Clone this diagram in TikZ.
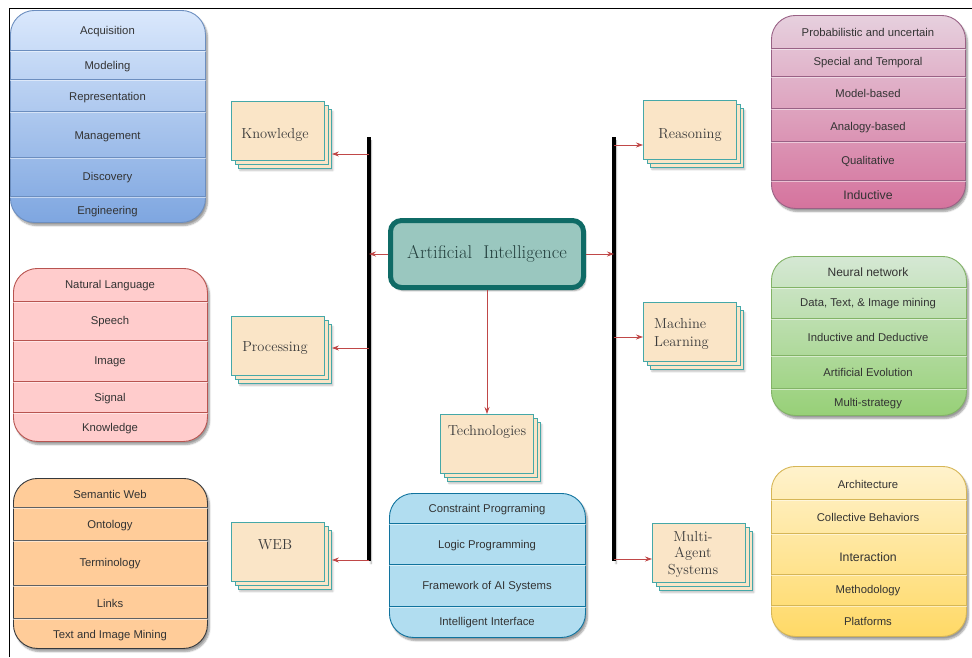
\documentclass[tikz,border=0pt]{standalone}
\usepackage{fontspec}
\newfontfamily\sansf{Liberation Sans}
\usetikzlibrary{shadows.blur,arrows.meta,calc}
\definecolor{bTop}{HTML}{DAE8FC}\definecolor{bBot}{HTML}{7EA6E0}\definecolor{bLn}{HTML}{6C8EBF}
\definecolor{rFill}{HTML}{FFCCCC}\definecolor{rLn}{HTML}{B85450}
\definecolor{oFill}{HTML}{FFCC99}\definecolor{oLn}{HTML}{36393D}
\definecolor{mTop}{HTML}{E6D0DE}\definecolor{mBot}{HTML}{D5739D}\definecolor{mLn}{HTML}{996185}
\definecolor{gTop}{HTML}{D5E8D4}\definecolor{gBot}{HTML}{97D077}\definecolor{gLn}{HTML}{82B366}
\definecolor{yTop}{HTML}{FFF2CC}\definecolor{yBot}{HTML}{FFD966}\definecolor{yLn}{HTML}{D6B656}
\definecolor{cFill}{HTML}{B1DDF0}\definecolor{cLn}{HTML}{10739E}
\definecolor{aiFill}{HTML}{9AC7BF}\definecolor{aiLn}{HTML}{0F6B66}\definecolor{aiTxt}{HTML}{24403E}
\definecolor{cardFill}{HTML}{FAE5C7}\definecolor{cardLn}{HTML}{45A8A8}\definecolor{cardTxt}{HTML}{3C3C3C}
\definecolor{arrC}{HTML}{C04848}\definecolor{txtC}{HTML}{333333}
\begin{document}
\begin{tikzpicture}[x=1pt,y=-1pt,
  shad/.style={blur shadow={shadow xshift=2pt,shadow yshift=-3pt,shadow blur steps=6,shadow opacity=40}},
  cshad/.style={blur shadow={shadow xshift=1.5pt,shadow yshift=-2pt,shadow blur steps=5,shadow opacity=25}},
  panel/.style={draw,rounded corners=24pt,line width=0.9pt,inner sep=0pt,anchor=north west,shad},
  lbl/.style={font=\sansf\fontsize{11.3}{13}\selectfont,text=txtC,inner sep=1pt,yshift=-1.5pt},
  card/.style={draw=cardLn,fill=cardFill,line width=0.9pt,inner sep=0pt,anchor=north west,minimum width=93pt,minimum height=59pt},
  ctxt/.style={font=\fontsize{14.5}{17.5}\selectfont,text=cardTxt,inner sep=1pt,align=center},
  arr/.style={draw=arrC,line width=0.8pt,-{Stealth[length=7pt,width=5pt]}},
  bar/.style={line width=4pt,black,shad},
  dv/.style={draw=#1,line width=0.8pt}
]
\useasboundingbox (0,0) rectangle (972,657);
% frame
\coordinate (f1) at (9,657); \coordinate (f2) at (9,8); \coordinate (f3) at (972,8);
\draw[line width=0.9pt] (f1) -- (f2) -- (f3);

% ---------- left panels ----------
\node[panel,draw=bLn,top color=bTop,bottom color=bBot,minimum width=195pt,minimum height=212pt] (P1) at (10,10) {};
\foreach \yy in {50,79,111,157,196}{\draw[dv=bLn] (P1.west |- 0,\yy) -- (P1.east |- 0,\yy); \draw[white,opacity=.5,line width=1pt] (P1.west |- 0,\yy+1.5) -- (P1.east |- 0,\yy+1.5);}
\node[lbl] (p1a) at (107.5,30) {Acquisition};
\node[lbl] (p1b) at (107.5,65) {Modeling};
\node[lbl] (p1c) at (107.5,96) {Representation};
\node[lbl] (p1d) at (107.5,135) {Management};
\node[lbl] (p1e) at (107.5,176) {Discovery};
\node[lbl] (p1f) at (107.5,210) {Engineering};

\node[panel,draw=rLn,fill=rFill,minimum width=194pt,minimum height=173pt] (P2) at (13,268) {};
\foreach \yy in {301,340,381,412}{\draw[dv=rLn] (P2.west |- 0,\yy) -- (P2.east |- 0,\yy); \draw[white,opacity=.5,line width=1pt] (P2.west |- 0,\yy+1.5) -- (P2.east |- 0,\yy+1.5);}
\node[lbl] (p2a) at (110,284) {Natural Language};
\node[lbl] (p2b) at (110,320) {Speech};
\node[lbl] (p2c) at (110,360) {Image};
\node[lbl] (p2d) at (110,397) {Signal};
\node[lbl] (p2e) at (110,427) {Knowledge};

\node[panel,draw=oLn,fill=oFill,minimum width=194pt,minimum height=170pt] (P3) at (13,478) {};
\foreach \yy in {507,540,585,618}{\draw[dv=oLn!80] (P3.west |- 0,\yy) -- (P3.east |- 0,\yy); \draw[white,opacity=.5,line width=1pt] (P3.west |- 0,\yy+1.5) -- (P3.east |- 0,\yy+1.5);}
\node[lbl] (p3a) at (110,493) {Semantic Web};
\node[lbl] (p3b) at (110,524) {Ontology};
\node[lbl] (p3c) at (110,562) {Terminology};
\node[lbl] (p3d) at (110,602) {Links};
\node[lbl] (p3e) at (110,634) {Text and Image Mining};

% ---------- right panels ----------
\node[panel,draw=mLn,top color=mTop,bottom color=mBot,minimum width=194pt,minimum height=193pt] (P4) at (771,15) {};
\foreach \yy in {48,76,108,141,180}{\draw[dv=mLn] (P4.west |- 0,\yy) -- (P4.east |- 0,\yy); \draw[white,opacity=.5,line width=1pt] (P4.west |- 0,\yy+1.5) -- (P4.east |- 0,\yy+1.5);}
\node[lbl] (p4a) at (868,31) {Probabilistic and uncertain};
\node[lbl] (p4b) at (868,61) {Special and Temporal};
\node[lbl] (p4c) at (868,92) {Model-based};
\node[lbl] (p4d) at (868,126) {Analogy-based};
\node[lbl] (p4e) at (868,160) {Qualitative};
\node[lbl,font=\sansf\fontsize{12.3}{14}\selectfont] (p4f) at (868,194) {Inductive};

\node[panel,draw=gLn,top color=gTop,bottom color=gBot,minimum width=195pt,minimum height=159pt] (P5) at (771,256) {};
\foreach \yy in {287,318,355,388}{\draw[dv=gLn] (P5.west |- 0,\yy) -- (P5.east |- 0,\yy); \draw[white,opacity=.5,line width=1pt] (P5.west |- 0,\yy+1.5) -- (P5.east |- 0,\yy+1.5);}
\node[lbl,font=\sansf\fontsize{12}{14}\selectfont] (p5a) at (868,271) {Neural network};
\node[lbl] (p5b) at (868,302) {Data, Text, \& Image mining};
\node[lbl] (p5c) at (868,336) {Inductive and Deductive};
\node[lbl] (p5d) at (868,371) {Artificial Evolution};
\node[lbl] (p5e) at (868,402) {Multi-strategy};

\node[panel,draw=yLn,top color=yTop,bottom color=yBot,minimum width=195pt,minimum height=170pt] (P6) at (771,466) {};
\foreach \yy in {499,533,574,605}{\draw[dv=yLn] (P6.west |- 0,\yy) -- (P6.east |- 0,\yy); \draw[white,opacity=.5,line width=1pt] (P6.west |- 0,\yy+1.5) -- (P6.east |- 0,\yy+1.5);}
\node[lbl] (p6a) at (868,483) {Architecture};
\node[lbl] (p6b) at (868,516) {Collective Behaviors};
\node[lbl,font=\sansf\fontsize{12.3}{14}\selectfont] (p6c) at (868,556) {Interaction};
\node[lbl] (p6d) at (868,589) {Methodology};
\node[lbl] (p6e) at (868,620) {Platforms};

% ---------- bottom centre panel ----------
\node[panel,draw=cLn,fill=cFill,minimum width=196pt,minimum height=144pt] (P7) at (389,493) {};
\foreach \yy in {523,564,606}{\draw[dv=cLn] (P7.west |- 0,\yy) -- (P7.east |- 0,\yy); \draw[white,opacity=.5,line width=1pt] (P7.west |- 0,\yy+1.5) -- (P7.east |- 0,\yy+1.5);}
\node[lbl] (p7a) at (487,508) {Constraint Progrraming};
\node[lbl] (p7b) at (487,544) {Logic Programming};
\node[lbl] (p7c) at (487,585) {Framework of AI Systems};
\node[lbl] (p7d) at (487,621) {Intelligent Interface};

% ---------- centre ----------
\node[draw=aiLn,fill=aiFill,line width=5pt,rounded corners=11pt,minimum width=193pt,minimum height=67pt,inner sep=0pt,shad,
      font=\fontsize{18.5}{20}\selectfont,text=aiTxt] (AI) at (487,254) {Artificial\hspace{0.6em}Intelligence};

% bars
\coordinate (lb1) at (369,137); \coordinate (lb2) at (369,561);
\coordinate (rb1) at (614,137); \coordinate (rb2) at (614,561);
\draw[bar] (lb1) -- (lb2);
\draw[bar] (rb1) -- (rb2);

% ---------- cards ----------
% Knowledge
\node[card,cshad] (kn3) at (238,109) {}; \node[card] (kn2) at (234.5,105) {}; \node[card] (kn1) at (231,101) {};
\node[ctxt] (knT) at (275,135) {Knowledge};
% Processing
\node[card,cshad] (pr3) at (238,324) {}; \node[card] (pr2) at (234.5,320) {}; \node[card] (pr1) at (231,316) {};
\node[ctxt] (prT) at (275,348) {Processing};
% WEB
\node[card,cshad] (wb3) at (238,530) {}; \node[card] (wb2) at (234.5,526) {}; \node[card] (wb1) at (231,522) {};
\node[ctxt] (wbT) at (275,545) {WEB};
% Reasoning
\node[card,cshad] (re3) at (650,108) {}; \node[card] (re2) at (646.5,104) {}; \node[card] (re1) at (643,100) {};
\node[ctxt] (reT) at (690,135) {Reasoning};
% Machine Learning
\node[card,cshad] (ml3) at (650,310) {}; \node[card] (ml2) at (646.5,306) {}; \node[card] (ml1) at (643,302) {};
\node[ctxt,align=left,anchor=west] (mlT) at (653,334) {Machine\\Learning};
% Multi-Agent Systems
\node[card,cshad] (ma3) at (659,531) {}; \node[card] (ma2) at (655.5,527) {}; \node[card] (ma1) at (652,523) {};
\node[ctxt,font=\fontsize{14.5}{16.5}\selectfont] (maT) at (693,554) {Multi-\\Agent\\Systems};
% Technologies
\node[card,cshad] (te3) at (447,422) {}; \node[card] (te2) at (443.5,418) {}; \node[card] (te1) at (440,414) {};
\node[ctxt] (teT) at (487,432) {Technologies};

% ---------- connectors ----------
\draw[arr] (AI.west) -- (AI.west -| lb1);
\draw[arr] (AI.east) -- (AI.east -| rb1);
\draw[arr] (AI.south) -- (te1.north -| AI.south);
\coordinate (ka) at (369,154); \draw[arr] (ka) -- (ka -| kn3.east);
\coordinate (pa) at (369,348); \draw[arr] (pa) -- (pa -| pr3.east);
\coordinate (wa) at (369,560); \draw[arr] (wa) -- (wa -| wb3.east);
\coordinate (ra) at (614,145); \draw[arr] (ra) -- (ra -| re1.west);
\coordinate (ma) at (614,337); \draw[arr] (ma) -- (ma -| ml1.west);
\coordinate (aa) at (614,559); \draw[arr] (aa) -- (aa -| ma1.west);
\end{tikzpicture}
\end{document}
